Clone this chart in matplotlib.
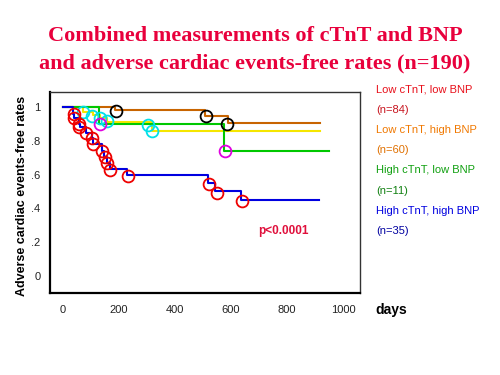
import matplotlib.pyplot as plt

# step curves (days, survival)
ll_t = [0, 185, 507, 589, 918]
ll_s = [1.0, 0.982, 0.947, 0.906, 0.906]
lh_t = [0, 71, 107, 132, 157, 318, 918]
lh_s = [1.0, 0.97, 0.953, 0.935, 0.912, 0.859, 0.859]
hl_t = [0, 129, 575, 950]
hl_s = [1.0, 0.9, 0.74, 0.74]
hh_t = [0, 36, 39, 57, 61, 82, 104, 107, 139, 146, 157, 168, 229, 518, 543, 636, 914]
hh_s = [1.0, 0.959, 0.935, 0.9, 0.882, 0.847, 0.818, 0.782, 0.741, 0.706, 0.671,
        0.635, 0.6, 0.553, 0.506, 0.447, 0.447]

# circle marks
ll_ct = [189, 511, 586]
ll_cs = [0.976, 0.947, 0.9]
lh_ct = [71, 104, 132, 157, 304, 318]
lh_cs = [0.97, 0.95, 0.935, 0.915, 0.894, 0.859]
hl_ct = [132, 579]
hl_cs = [0.9, 0.74]
hh_ct = [39, 39, 57, 57, 82, 104, 107, 139, 150, 157, 168, 232, 521, 550, 639]
hh_cs = [0.959, 0.935, 0.9, 0.882, 0.847, 0.818, 0.782, 0.741, 0.706, 0.671,
         0.629, 0.594, 0.547, 0.494, 0.441]

legend_lines = ['Low cTnT, low BNP', '(n=84)', 'Low cTnT, high BNP', '(n=60)',
                'High cTnT, low BNP', '(n=11)', 'High cTnT, high BNP', '(n=35)']
legend_colors = ['#e8101a', '#c8141e', '#f07800', '#e07000',
                 '#10a010', '#108010', '#0000e0', '#0000a0']

xticks = [0, 200, 400, 600, 800, 1000]
yticks = [0, 0.2, 0.4, 0.6, 0.8, 1.0]
ylabels = ['0', '.2', '.4', '.6', '.8', '1']

fig = plt.figure(figsize=(5, 3.75), dpi=100)
ax = fig.add_axes([0.1, 0.219, 0.62, 0.536])

curves = [
    (ll_t, ll_s, '#c86400', ll_ct, ll_cs, 'black'),
    (lh_t, lh_s, '#f5e600', lh_ct, lh_cs, '#00e0e8'),
    (hl_t, hl_s, '#00c800', hl_ct, hl_cs, '#e000e0'),
    (hh_t, hh_s, '#0000e0', hh_ct, hh_cs, '#ee0000'),
]
for t, s, col, ct, cs, mcol in curves:
    ax.step(t, s, where='post', color=col, lw=1.5, zorder=2)
for t, s, col, ct, cs, mcol in curves:
    ax.plot(ct, cs, 'o', mfc='none', mec=mcol, ms=8.5, mew=1.3, zorder=3)

ax.set_xlim(-46, 1061)
ax.set_ylim(-0.1, 1.09)
ax.set_xticks(xticks)
ax.set_xticklabels([str(v) for v in xticks], fontsize=8, family='Liberation Sans', color='#222222')
ax.set_yticks(yticks)
ax.set_yticklabels(ylabels, fontsize=8, family='Liberation Sans', color='#222222')
ax.tick_params(axis='x', length=0, pad=9)
ax.tick_params(axis='y', length=0, pad=7)
for side in ['left', 'bottom']:
    ax.spines[side].set_linewidth(1.6)
    ax.spines[side].set_color('black')
for side in ['top', 'right']:
    ax.spines[side].set_linewidth(1.0)
    ax.spines[side].set_color('#333333')

ax.set_ylabel('Adverse cardiac events-free rates', fontsize=9, fontweight='bold',
              family='Liberation Sans', labelpad=2)
ax.yaxis.set_label_coords(-0.07, 0.48)
ax.text(786, 0.265, 'p<0.0001', color='#e0103c', fontsize=8.5, fontweight='bold',
        family='Liberation Sans', ha='center', va='center')

fig.text(0.51, 0.905, 'Combined measurements of cTnT and BNP', ha='center', va='center',
         fontsize=16, fontweight='bold', family='Liberation Serif', color='#e8003c')
fig.text(0.51, 0.83, 'and adverse cardiac events-free rates (n=190)', ha='center', va='center',
         fontsize=16, fontweight='bold', family='Liberation Serif', color='#e8003c')

for i, (txt, col) in enumerate(zip(legend_lines, legend_colors)):
    fig.text(0.752, 1 - (90 + 20.1 * i) / 375, txt, color=col, fontsize=8,
             family='Liberation Sans', ha='left', va='center')

fig.text(0.75, 1 - 310 / 375, 'days', fontsize=10, fontweight='bold',
         family='Liberation Sans', ha='left', va='center')

fig.savefig('out.png', dpi=100)
